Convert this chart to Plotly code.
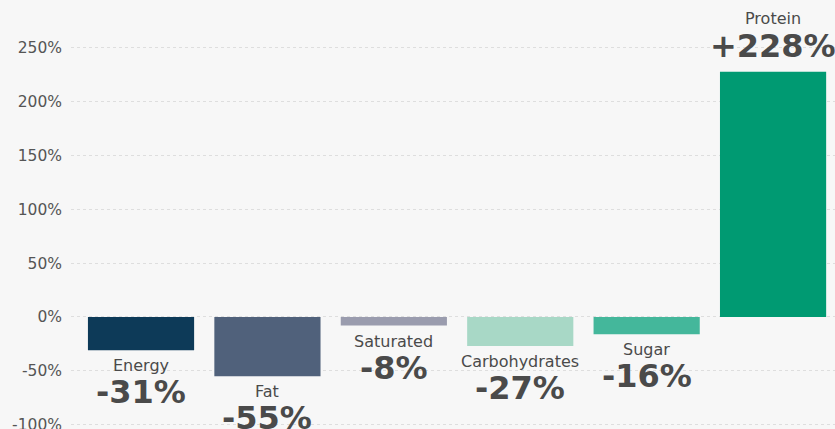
import plotly.graph_objects as go

categories = ["Energy", "Fat", "Saturated", "Carbohydrates", "Sugar", "Protein"]
changes = [-31, -55, -8, -27, -16, 228]
colors = ["#0d3a58", "#50617b", "#9a9cae", "#a8d8c6", "#44b79b", "#009a72"]
tick_vals = [-100, -50, 0, 50, 100, 150, 200, 250]
tick_text = ["-100%", "-50%", "0%", "50%", "100%", "150%", "200%", "250%"]

FONT = "DejaVu Sans, Verdana, sans-serif"
TXT = "#4a4a4a"

fig = go.Figure()
fig.add_trace(go.Bar(
    x=categories, y=changes, marker=dict(color=colors, line=dict(width=0)),
    hoverinfo="skip", showlegend=False,
))

annotations = []
for c, v in zip(categories, changes):
    label = f"+{v}%" if v > 0 else f"{v}%"
    if v < 0:
        annotations.append(dict(x=c, y=v, xref="x", yref="y", text=c, showarrow=False,
                                yanchor="top", yshift=-4,
                                font=dict(family=FONT, size=16, color=TXT)))
        annotations.append(dict(x=c, y=v, xref="x", yref="y", text=f"<b>{label}</b>", showarrow=False,
                                yanchor="top", yshift=-21,
                                font=dict(family=FONT, size=32, color=TXT)))
    else:
        annotations.append(dict(x=c, y=v, xref="x", yref="y", text=f"<b>{label}</b>", showarrow=False,
                                yanchor="bottom", yshift=5,
                                font=dict(family=FONT, size=32, color=TXT)))
        annotations.append(dict(x=c, y=v, xref="x", yref="y", text=c, showarrow=False,
                                yanchor="bottom", yshift=42,
                                font=dict(family=FONT, size=16, color=TXT)))

fig.update_layout(
    width=835, height=429,
    margin=dict(l=71, r=0, t=0, b=0, autoexpand=False),
    paper_bgcolor="#f7f7f7", plot_bgcolor="#f7f7f7",
    bargap=0.16,
    font=dict(family=FONT, size=15, color=TXT),
    xaxis=dict(visible=False, range=[-0.554, 5.49], automargin=False),
    yaxis=dict(range=[-104.1, 294.6], tickvals=tick_vals, ticktext=tick_text,
               showgrid=True, gridcolor="#dedede", griddash="dot", gridwidth=1,
               zeroline=False, ticks="", ticklabelstandoff=8,
               ticklabeloverflow="allow", automargin=False,
               tickfont=dict(family=FONT, size=15.5, color="#555555")),
    annotations=annotations,
)

fig.write_html("out.html", config={"displayModeBar": False},
               post_script="document.body.style.margin='0';document.body.style.background='#f7f7f7';")
